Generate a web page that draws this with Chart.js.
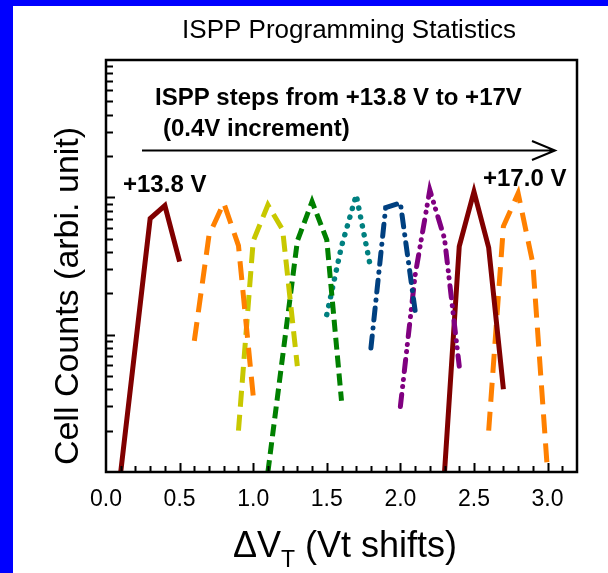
<!DOCTYPE html>
<html><head><meta charset="utf-8">
<script src="https://cdn.jsdelivr.net/npm/chart.js@4.4.0/dist/chart.umd.min.js"></script>
<style>
html,body{margin:0;padding:0;background:#fff;width:608px;height:573px;overflow:hidden}
#bl{position:absolute;left:0;top:0;width:13px;height:573px;background:#0000ff}
#bt{position:absolute;left:0;top:0;width:608px;height:6px;background:#0000ff}
#wrap{position:absolute;left:0;top:0;width:608px;height:573px}
</style></head><body>
<div id="bl"></div><div id="bt"></div>
<div id="wrap"><canvas id="c" width="608" height="573"></canvas></div>
<script>
// ---- data ----
const xTickValues = [0.0, 0.5, 1.0, 1.5, 2.0, 2.5, 3.0];
const x138 = [0.1, 0.3, 0.4, 0.5];          const y138 = [1, 70, 87, 34];
const x142 = [0.6, 0.7, 0.8, 0.9, 1.0];     const y142 = [9.0, 53, 91, 44.5, 3.6];
const x146 = [0.9, 1.0, 1.1, 1.2, 1.3];     const y146 = [2.0, 48, 88, 58, 5.9];
const x150 = [1.1, 1.3, 1.4, 1.5, 1.6];     const y150 = [1, 48, 93, 49, 3.3];
const x154 = [1.5, 1.6, 1.7, 1.8];          const y154 = [14, 44, 104, 30];
const x158 = [1.8, 1.9, 2.0, 2.1];          const y158 = [8, 84, 91, 15];
const x162 = [2.0, 2.1, 2.2, 2.3, 2.4];     const y162 = [3.0, 27, 113, 50, 5.9];
const x166 = [2.3, 2.4, 2.5, 2.6, 2.7];     const y166 = [1, 44, 110, 43, 4.0];
const x170 = [2.6, 2.7, 2.8, 2.9, 3.0];     const y170 = [2.0, 61.5, 107, 33, 1];

const F = '"Liberation Sans", Arial, Helvetica, sans-serif';
const pts = (xs, ys) => xs.map((v, i) => ({x: v, y: ys[i]}));
function ds(label, xs, ys, color, dash, cap, w) {
  return {label, data: pts(xs, ys), borderColor: color, borderWidth: w || 5,
    borderDash: dash, borderCapStyle: cap || 'butt', borderJoinStyle: 'miter',
    pointRadius: 0, tension: 0, fill: false};
}
const datasets = [
  ds('+13.8 V', x138, y138, '#800000', []),
  ds('+14.2 V', x142, y142, '#ff8000', [19, 10]),
  ds('+14.6 V', x146, y146, '#c8c800', [16, 8]),
  ds('+15.0 V', x150, y150, '#008000', [12, 6]),
  ds('+15.4 V', x154, y154, '#008080', [0.1, 9], 'round', 5.5),
  ds('+15.8 V', x158, y158, '#004080', [12, 8, 0.1, 8], 'round'),
  ds('+16.2 V', x162, y162, '#800080', [12, 8, 0.1, 7, 0.1, 8], 'round'),
  ds('+16.6 V', x166, y166, '#800000', []),
  ds('+17.0 V', x170, y170, '#ff8000', [19, 10])
];

const decoPlugin = {
  id: 'deco',
  afterDraw(chart) {
    const {ctx, chartArea: a, scales: {x, y}} = chart;
    ctx.save();
    ctx.strokeStyle = '#000';
    ctx.lineWidth = 2;
    ctx.beginPath();
    // x inward ticks every 0.1
    for (let i = 1; i < 32; i++) {
      const v = i / 10;
      const px = Math.round(x.getPixelForValue(v)) + 0.5;
      const len = (i % 5 === 0) ? 9 : 6;
      ctx.moveTo(px, a.bottom); ctx.lineTo(px, a.bottom - len);
    }
    // y inward ticks (log)
    for (let k = 0; k < 3; k++) {
      for (let m = 1; m < 10; m++) {
        const v = m * Math.pow(10, k);
        if (v <= 1) continue;
        const py = Math.round(y.getPixelForValue(v)) + 0.5;
        const len = (m === 1) ? 9 : 7;
        ctx.moveTo(a.left, py); ctx.lineTo(a.left + len, py);
      }
    }
    ctx.stroke();
    // frame
    ctx.lineWidth = 2.5;
    ctx.strokeRect(a.left, a.top, a.right - a.left, a.bottom - a.top);

    // texts
    ctx.fillStyle = '#000';
    ctx.textBaseline = 'middle';
    ctx.textAlign = 'center';
    ctx.font = '26px ' + F;
    ctx.fillText('ISPP Programming Statistics', 349, 31);

    ctx.textAlign = 'left';
    ctx.font = 'bold 24px ' + F;
    ctx.fillText('ISPP steps from +13.8 V to +17V', 155, 98);
    ctx.fillText('(0.4V increment)', 163, 129);
    ctx.fillText('+13.8 V', 123, 185);
    ctx.fillText('+17.0 V', 483, 179);

    // arrow
    ctx.lineWidth = 2;
    ctx.beginPath();
    ctx.moveTo(142, 150.5); ctx.lineTo(555, 150.5);
    ctx.moveTo(532, 141); ctx.lineTo(555, 150.5); ctx.lineTo(532, 160);
    ctx.stroke();

    // y title
    ctx.save();
    ctx.translate(69, 296);
    ctx.rotate(-Math.PI / 2);
    ctx.textAlign = 'center';
    ctx.font = '34px ' + F;
    ctx.fillText('Cell Counts (arbi. unit)', 0, 0);
    ctx.restore();

    // x title with subscript
    ctx.textBaseline = 'alphabetic';
    ctx.textAlign = 'left';
    const big = '36px ' + F, small = '23px ' + F;
    const t1 = '\u0394V', t2 = 'T', t3 = ' (Vt shifts)';
    ctx.font = big; const w1 = ctx.measureText(t1).width, w3 = ctx.measureText(t3).width;
    ctx.font = small; const w2 = ctx.measureText(t2).width;
    let sx = 345 - (w1 + w2 + w3) / 2;
    const by = 557;
    ctx.font = big; ctx.fillText(t1, sx, by); sx += w1;
    ctx.font = small; ctx.fillText(t2, sx, by + 10); sx += w2;
    ctx.font = big; ctx.fillText(t3, sx, by);
    ctx.restore();
  }
};

new Chart(document.getElementById('c'), {
  type: 'line',
  data: {datasets},
  plugins: [decoPlugin],
  options: {
    responsive: false,
    animation: false,
    layout: {padding: {left: 0, right: 31, top: 60, bottom: 0}},
    plugins: {legend: {display: false}, tooltip: {enabled: false}, title: {display: false}},
    scales: {
      x: {
        type: 'linear', min: 0, max: 3.2, position: 'bottom',
        grid: {display: false, drawTicks: false}, border: {display: false},
        ticks: {font: {family: F, size: 23}, color: '#000', padding: 14,
          callback: v => Number(v).toFixed(1)},
        afterBuildTicks: s => { s.ticks = xTickValues.map(v => ({value: v})); },
        afterFit: s => { s.height = 101; }
      },
      y: {
        type: 'logarithmic', min: 1, max: 1000,
        grid: {display: false, drawTicks: false}, border: {display: false},
        ticks: {display: false},
        afterFit: s => { s.width = 106; }
      }
    }
  }
});
</script></body></html>
